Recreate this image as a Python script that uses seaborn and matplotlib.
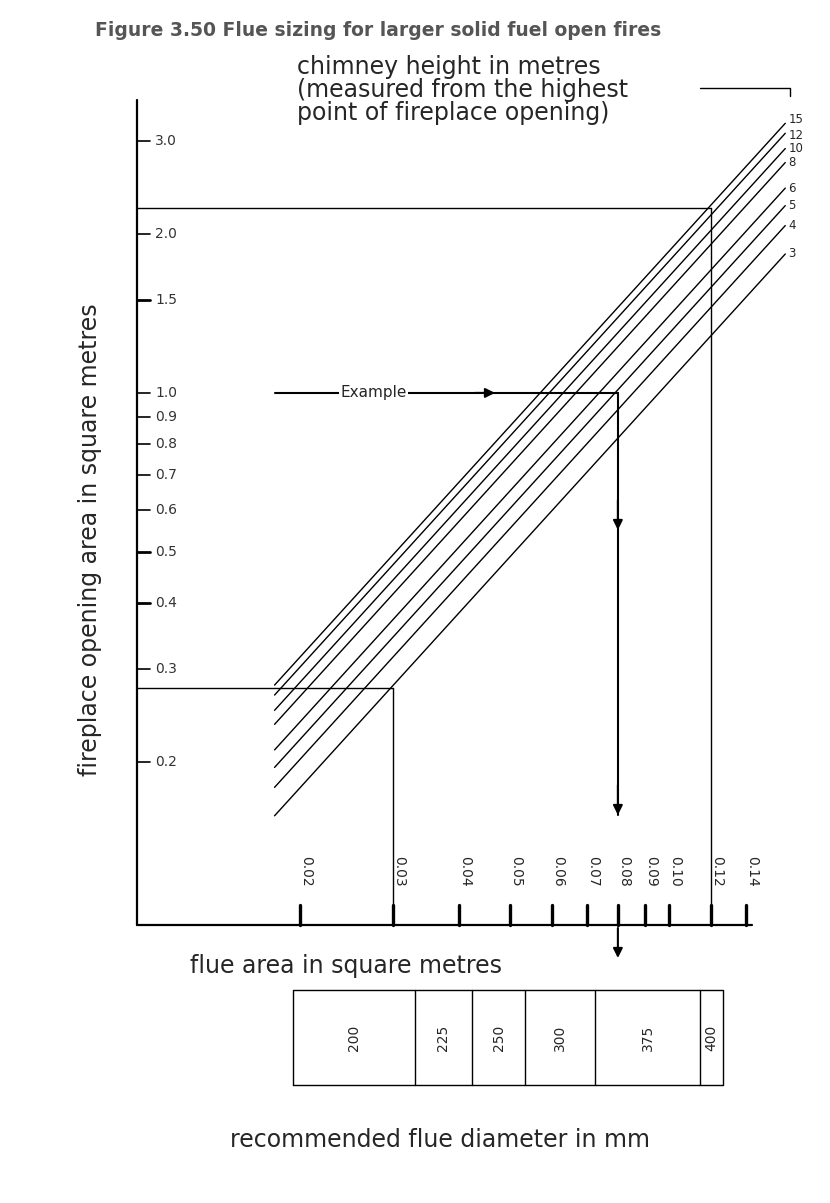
import numpy as np
import matplotlib
matplotlib.use("Agg")
import matplotlib.pyplot as plt
import seaborn as sns

sns.set_theme(style="white")
plt.rcParams['font.family'] = ['DejaVu Sans']

# chimney heights (m) and flue area (m2) where each line crosses 1.0 m2 opening
heights = [15, 12, 10, 8, 6, 5, 4, 3]
flue_at_unit = [0.0570, 0.0593, 0.0630, 0.0666, 0.0737, 0.0790, 0.0855, 0.0957]
label_shift_px = [-4, 2, 0, 0, 0, 0, 0, 0]
slope = 1.1
line_flue_range = [0.0179, 0.166]

y_ticks = [3.0, 2.0, 1.5, 1.0, 0.9, 0.8, 0.7, 0.6, 0.5, 0.4, 0.3, 0.2]
x_ticks = [0.02, 0.03, 0.04, 0.05, 0.06, 0.07, 0.08, 0.09, 0.10, 0.12, 0.14]
x_tick_labels = ["0.02", "0.03", "0.04", "0.05", "0.06", "0.07", "0.08", "0.09", "0.10", "0.12", "0.14"]

diameters = [200, 225, 250, 300, 375, 400]
diam_edges_px = [293, 415, 472, 525, 595, 700, 723]

guides = [(2.24, 0.12), (0.276, 0.03)]
example_area, example_flue = 1.0, 0.08

W, H = 830, 1203
PPD = 528.0  # pixels per decade


def px(xp, yp):
    """pixel position -> data (flue, area)"""
    return 10 ** (np.log10(0.02) + (xp - 300) / PPD), 10 ** (np.log10(3.0) - (yp - 141) / PPD)


def xpx(xp):
    return px(xp, 0)[0]


def ypx(yp):
    return px(0, yp)[1]


fig = plt.figure(figsize=(W / 100, H / 100), dpi=100)
ax = fig.add_axes([0, 0, 1, 1])
ax.set_xscale("log")
ax.set_yscale("log")
x0, y0 = px(0, H)
x1, y1 = px(W, 0)
ax.set_xlim(x0, x1)
ax.set_ylim(y0, y1)
ax.axis("off")

k = dict(color="black", lw=1.0)
ax0x = xpx(137)
axy = ypx(925)
ax.plot([ax0x, ax0x], [axy, ypx(100)], color="black", lw=1.6)
ax.plot([ax0x, xpx(752)], [axy, axy], color="black", lw=1.6)

# y ticks
for v in y_ticks:
    ax.plot([ax0x, xpx(150)], [v, v], color="black", lw=2 if v in (1.5, 0.5, 0.4) else 1.2)
    ax.text(xpx(155), v, f"{v:.1f}", va="center", ha="left", fontsize=10, color="#333")

# x ticks
for v, lab in zip(x_ticks, x_tick_labels):
    ax.plot([v, v], [axy, ypx(905)], color="black", lw=2.4)
    ax.text(v * 10 ** (6 / PPD), ypx(856), lab, rotation=270, ha="center", va="top", fontsize=10)

# chimney lines
for h, f1, s in zip(heights, flue_at_unit, label_shift_px):
    fx = np.array(line_flue_range)
    ax.plot(fx, (fx / f1) ** slope, **k)
    fe = line_flue_range[1]
    ax.text(fe * 10 ** (3 / PPD), (fe / f1) ** slope * 10 ** (-s / PPD), str(h),
            fontsize=8.5, ha="left", va="center")

# guide lines
for a, f in guides:
    ax.plot([ax0x, f], [a, a], **k)
    ax.plot([f, f], [a, axy], **k)

# example
ax.plot([xpx(275), example_flue], [example_area, example_area], color="black", lw=1.5)
ax.plot([example_flue, example_flue], [example_area, ypx(815)], color="black", lw=1.5)
ax.text(xpx(340), example_area, "Example", ha="left", va="center", fontsize=11,
        bbox=dict(facecolor="white", edgecolor="none", pad=1))
arrow = dict(arrowstyle="-|>", color="black", lw=1.5, mutation_scale=14, shrinkA=0, shrinkB=0)
ax.annotate("", xy=(xpx(495), example_area), xytext=(xpx(475), example_area), arrowprops=arrow)
for ya, yb in [(500, 530), (785, 815), (928, 958)]:
    ax.annotate("", xy=(example_flue, ypx(yb)), xytext=(example_flue, ypx(ya)), arrowprops=arrow)

# bracket for heights text
ax.plot([xpx(700), xpx(790), xpx(790)], [ypx(88), ypx(88), ypx(96)], **k)

# texts
ax.text(xpx(95), ypx(30), "Figure 3.50 Flue sizing for larger solid fuel open fires", fontsize=13.5,
        fontweight="bold", color="#555", va="center", ha="left")
ax.text(xpx(297), ypx(55), "chimney height in metres\n(measured from the highest\npoint of fireplace opening)",
        fontsize=17, va="top", ha="left", linespacing=0.95)
ax.text(xpx(90), ypx(540), "fireplace opening area in square metres", rotation=90, fontsize=17,
        ha="center", va="center")
ax.text(xpx(190), ypx(966), "flue area in square metres", fontsize=17, ha="left", va="center")

# diameter box
by0, by1 = ypx(1085), ypx(990)
xs = [xpx(e) for e in diam_edges_px]
ax.plot([xs[0], xs[-1], xs[-1], xs[0], xs[0]], [by0, by0, by1, by1, by0], **k)
for e in xs[1:-1]:
    ax.plot([e, e], [by0, by1], **k)
for d, l, r in zip(diameters, xs[:-1], xs[1:]):
    ax.text(np.sqrt(l * r), np.sqrt(by0 * by1), str(d), rotation=90, ha="center", va="center", fontsize=10)
ax.text(xpx(440), ypx(1140), "recommended flue diameter in mm", fontsize=17, ha="center", va="center")

fig.savefig("out.png", dpi=100)
